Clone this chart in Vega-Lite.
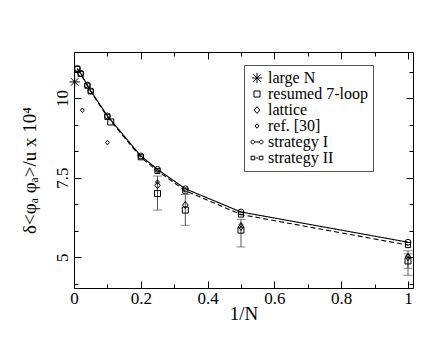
{
  "$schema": "https://vega.github.io/schema/vega-lite/v6.json",
  "autosize": {"type": "none"},
  "width": 339,
  "height": 236,
  "padding": {"left": 74, "top": 52, "right": 27, "bottom": 52},
  "background": "white",
  "config": {
    "view": {"stroke": "#000", "strokeWidth": 1},
    "font": "Liberation Serif",
    "legend": {"labelFont": "Liberation Serif", "titleFont": "Liberation Serif"},
    "axis": {
      "domain": false,
      "grid": false,
      "tickColor": "#000",
      "labelColor": "#000",
      "titleColor": "#000",
      "labelFont": "Liberation Serif",
      "titleFont": "Liberation Serif",
      "labelFontSize": 17,
      "titleFontSize": 19,
      "titleFontWeight": "normal"
    }
  },
  "datasets": {
    "strat": [
      {"series": "strategy I", "x": 0.01, "y": 10.93},
      {"series": "strategy I", "x": 0.02, "y": 10.78},
      {"series": "strategy I", "x": 0.04, "y": 10.41},
      {"series": "strategy I", "x": 0.05, "y": 10.23},
      {"series": "strategy I", "x": 0.1, "y": 9.44},
      {"series": "strategy I", "x": 0.2, "y": 8.18},
      {"series": "strategy I", "x": 0.25, "y": 7.76},
      {"series": "strategy I", "x": 0.3333, "y": 7.15},
      {"series": "strategy I", "x": 0.5, "y": 6.42},
      {"series": "strategy I", "x": 1, "y": 5.47},
      {"series": "strategy II", "x": 0.01, "y": 10.92},
      {"series": "strategy II", "x": 0.02, "y": 10.76},
      {"series": "strategy II", "x": 0.04, "y": 10.39},
      {"series": "strategy II", "x": 0.05, "y": 10.21},
      {"series": "strategy II", "x": 0.1, "y": 9.41},
      {"series": "strategy II", "x": 0.2, "y": 8.14},
      {"series": "strategy II", "x": 0.25, "y": 7.71},
      {"series": "strategy II", "x": 0.3333, "y": 7.09},
      {"series": "strategy II", "x": 0.5, "y": 6.34},
      {"series": "strategy II", "x": 1, "y": 5.38}
    ],
    "markers": [
      {"series": "large N", "x": 0.002, "y": 10.51},
      {"series": "resumed 7-loop", "x": 0.11, "y": 9.25},
      {"series": "resumed 7-loop", "x": 0.25, "y": 7.0},
      {"series": "resumed 7-loop", "x": 0.3333, "y": 6.48},
      {"series": "resumed 7-loop", "x": 0.5, "y": 5.85},
      {"series": "resumed 7-loop", "x": 1, "y": 4.88},
      {"series": "lattice", "x": 0.25, "y": 7.26},
      {"series": "lattice", "x": 0.3333, "y": 6.64},
      {"series": "lattice", "x": 0.5, "y": 5.95},
      {"series": "lattice", "x": 1, "y": 5.0},
      {"series": "ref. [30]", "x": 0.025, "y": 9.62},
      {"series": "ref. [30]", "x": 0.1, "y": 8.6},
      {"series": "ref. [30]", "x": 0.25, "y": 7.36},
      {"series": "ref. [30]", "x": 0.5, "y": 6.02},
      {"series": "ref. [30]", "x": 1, "y": 5.05}
    ],
    "errs": [
      {"x": 0.25, "lo": 6.48, "hi": 7.55},
      {"x": 0.3333, "lo": 6.0, "hi": 6.97},
      {"x": 0.5, "lo": 5.32, "hi": 6.19},
      {"x": 1, "lo": 4.43, "hi": 5.2},
      {"x": 1, "lo": 4.65, "hi": 5.1}
    ]
  },
  "resolve": {"axis": {"x": "independent", "y": "independent"}},
  "layer": [
    {
      "data": {"name": "strat"},
      "mark": {"type": "line", "color": "#000", "strokeWidth": 1.1},
      "encoding": {
        "x": {
          "field": "x", "type": "quantitative",
          "scale": {"domain": [0, 1.015], "nice": false, "zero": false},
          "axis": {
            "orient": "bottom",
            "title": "1/N",
            "values": [0, 0.1, 0.2, 0.3, 0.4, 0.5, 0.6, 0.7, 0.8, 0.9, 1],
            "labelExpr": "round(datum.value*10) % 2 == 0 ? format(datum.value, '~g') : ''",
            "tickSize": {"condition": {"test": "round(datum.value*10) % 2 == 0", "value": -7}, "value": -4},
            "labelPadding": 9,
            "titlePadding": -2,
            "labelFlush": false
          }
        },
        "y": {
          "field": "y", "type": "quantitative",
          "scale": {"domain": [4.03, 11.45], "nice": false, "zero": false},
          "axis": {
            "orient": "left",
            "title": "δ<φₐ φₐ>/u x 10⁴",
            "values": [4.1667, 5, 5.8333, 6.6667, 7.5, 8.3333, 9.1667, 10, 10.8333],
            "labelExpr": "datum.value == 5 || datum.value == 7.5 || datum.value == 10 ? format(datum.value, '~g') : ''",
            "tickSize": {"condition": {"test": "datum.value == 5 || datum.value == 7.5 || datum.value == 10", "value": -7}, "value": -4},
            "labelAngle": -90,
            "labelAlign": "center",
            "labelBaseline": "bottom",
            "labelPadding": 10,
            "titlePadding": 14,
            "labelFlush": false
          }
        },
        "strokeDash": {
          "field": "series", "type": "nominal",
          "scale": {"domain": ["strategy I", "strategy II"], "range": [[1, 0], [5, 3]]},
          "legend": null
        }
      }
    },
    {
      "data": {"name": "strat"},
      "transform": [{"filter": "datum.series === 'strategy I'"}],
      "mark": {"type": "point", "shape": "circle", "filled": false, "color": "#000", "size": 34, "strokeWidth": 1, "opacity": 1},
      "encoding": {
        "x": {"field": "x", "type": "quantitative",
          "axis": {"orient": "top", "title": null, "labels": false,
            "values": [0, 0.1, 0.2, 0.3, 0.4, 0.5, 0.6, 0.7, 0.8, 0.9, 1],
            "tickSize": {"condition": {"test": "round(datum.value*10) % 2 == 0", "value": -7}, "value": -4}}},
        "y": {"field": "y", "type": "quantitative",
          "axis": {"orient": "right", "title": null, "labels": false,
            "values": [4.1667, 5, 5.8333, 6.6667, 7.5, 8.3333, 9.1667, 10, 10.8333],
            "tickSize": {"condition": {"test": "datum.value == 5 || datum.value == 7.5 || datum.value == 10", "value": -7}, "value": -4}}}
      }
    },
    {
      "data": {"name": "strat"},
      "transform": [{"filter": "datum.series === 'strategy II'"}],
      "mark": {"type": "point", "shape": "square", "filled": false, "color": "#000", "size": 26, "strokeWidth": 1, "opacity": 1},
      "encoding": {
        "x": {"field": "x", "type": "quantitative", "axis": null},
        "y": {"field": "y", "type": "quantitative", "axis": null}
      }
    },
    {
      "data": {"name": "errs"},
      "mark": {"type": "errorbar", "ticks": {"size": 9, "color": "#555"}, "rule": {"color": "#555"}},
      "encoding": {
        "x": {"field": "x", "type": "quantitative", "axis": null},
        "y": {"field": "lo", "type": "quantitative", "axis": null},
        "y2": {"field": "hi"}
      }
    },
    {
      "data": {"name": "markers"},
      "mark": {"type": "point", "filled": false, "color": "#000", "size": 144, "strokeWidth": 1, "opacity": 1},
      "encoding": {
        "x": {"field": "x", "type": "quantitative", "axis": null},
        "y": {"field": "y", "type": "quantitative", "axis": null},
        "shape": {
          "field": "series", "type": "nominal",
          "scale": {
            "domain": ["large N", "resumed 7-loop", "lattice", "ref. [30]", "strategy I", "strategy II"],
            "range": [
              "M-0.85,0L0.85,0M0,-0.85L0,0.85M-0.62,-0.62L0.62,0.62M-0.62,0.62L0.62,-0.62",
              "M-0.5,-0.5L0.5,-0.5L0.5,0.5L-0.5,0.5Z",
              "M0,-0.58L0.46,0L0,0.58L-0.46,0Z",
              "M0,-0.38L0.32,0L0,0.38L-0.32,0Z",
              "M-1,0A0.3,0.3 0 1,0 -0.4,0A0.3,0.3 0 1,0 -1,0ZM0.4,0A0.3,0.3 0 1,0 1,0A0.3,0.3 0 1,0 0.4,0ZM-0.4,0L0.4,0",
              "M-0.98,-0.3L-0.38,-0.3L-0.38,0.3L-0.98,0.3ZM0.38,-0.3L0.98,-0.3L0.98,0.3L0.38,0.3ZM-0.2,0L0.2,0"
            ]
          },
          "legend": {
            "title": null,
            "orient": "none",
            "legendX": 170,
            "legendY": 13,
            "strokeColor": "#555",
            "fillColor": "white",
            "padding": 5,
            "labelFont": "Liberation Serif",
            "labelFontSize": 16,
            "labelColor": "#000",
            "rowPadding": 0,
            "labelOffset": 3,
            "symbolStrokeColor": "#000",
            "symbolStrokeWidth": 1,
            "symbolSize": 144
          }
        }
      }
    }
  ]
}
